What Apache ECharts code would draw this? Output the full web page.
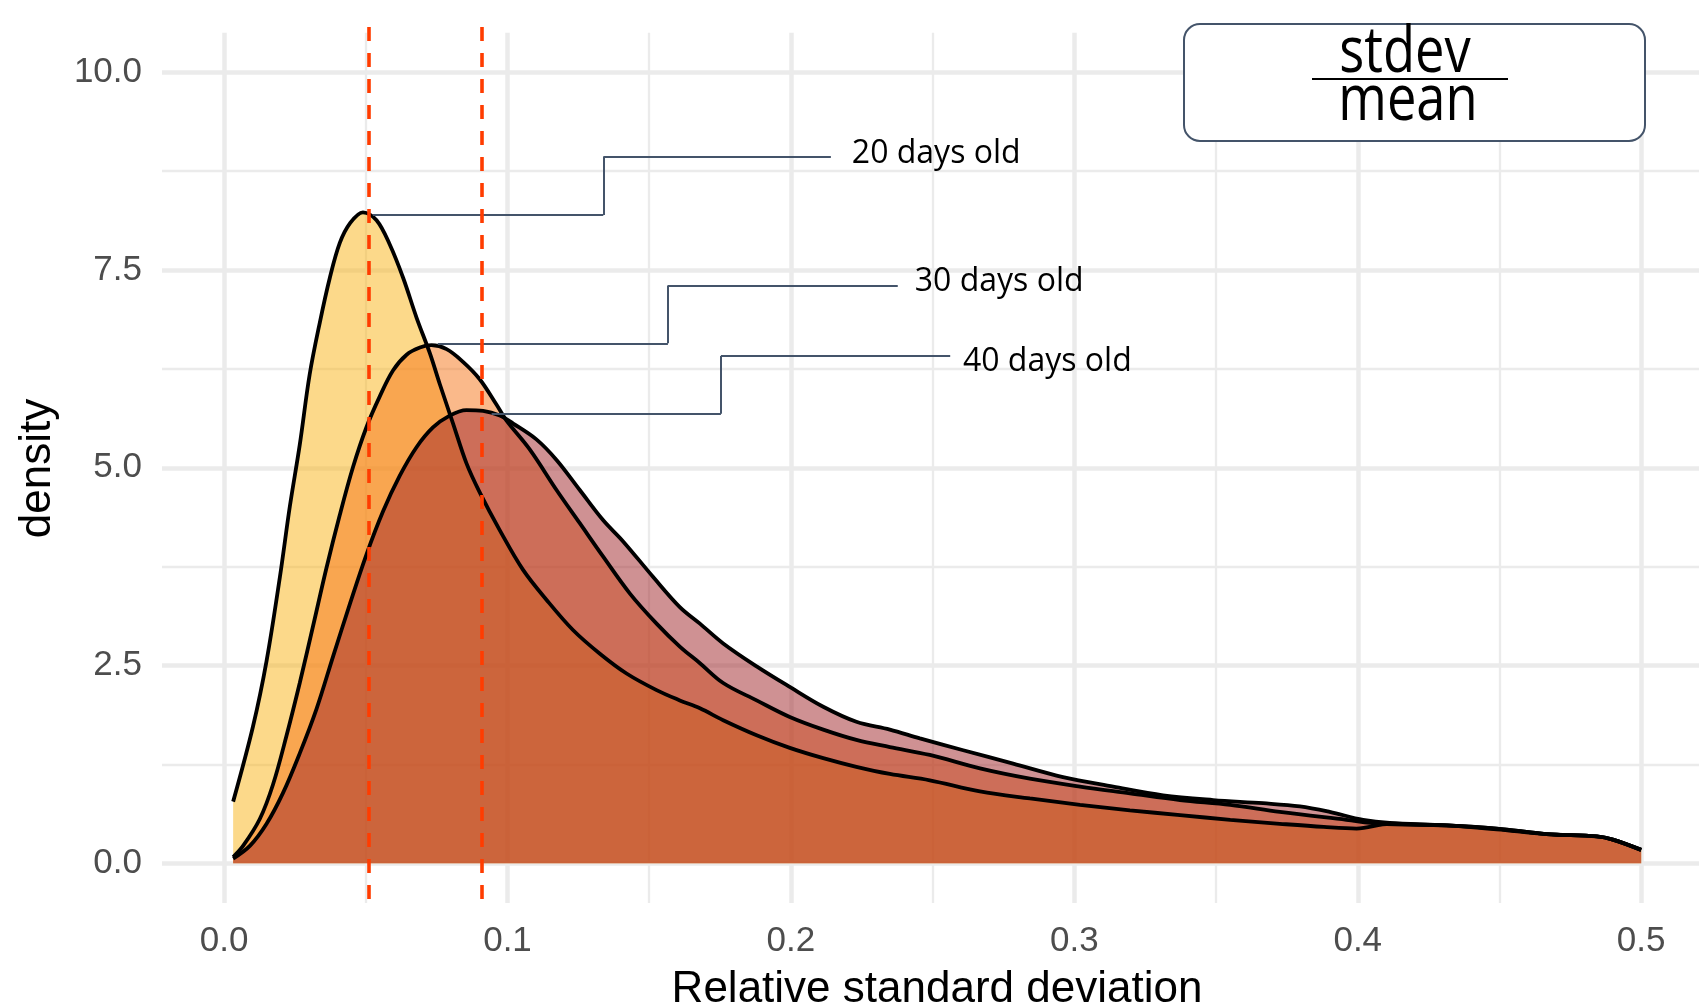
<!DOCTYPE html>
<html>
<head>
<meta charset="utf-8">
<script src="https://cdn.jsdelivr.net/npm/echarts@6/dist/echarts.min.js"></script>
<style>
html,body{margin:0;padding:0;background:#ffffff;}
#chart{width:1699px;height:1007px;}
</style>
</head>
<body>
<div id="chart"></div>
<script>
// ---------------- data ----------------
const seriesNames = ['20 days old', '30 days old', '40 days old'];

const x20 = [0.0032,0.0102,0.0150,0.0197,0.0232,0.0267,0.0302,0.0338,0.0373,0.0408,0.0444,0.0490,0.0538,0.0585,0.0632,0.0679,0.0726,0.0761,0.0808,0.0855,0.0902,0.0973,0.1055,0.1138,0.1231,0.1326,0.1420,0.1526,0.1608,0.1679,0.1761,0.1879,0.1996,0.2114,0.2231,0.2349,0.2490,0.2667,0.2843,0.3020,0.3196,0.3373,0.3550,0.3725,0.3880,0.3996,0.4113,0.4313,0.4490,0.4666,0.4843,0.4900,0.5000];
const y20 = [0.78,1.73,2.56,3.62,4.51,5.29,6.18,6.84,7.40,7.84,8.09,8.23,8.13,7.82,7.40,6.90,6.45,6.06,5.56,5.06,4.69,4.21,3.71,3.33,2.95,2.65,2.40,2.19,2.06,1.96,1.81,1.62,1.46,1.33,1.22,1.13,1.05,0.91,0.82,0.74,0.67,0.61,0.55,0.50,0.46,0.44,0.50,0.48,0.44,0.37,0.34,0.30,0.17];

const x30 = [0.0032,0.0067,0.0126,0.0173,0.0220,0.0267,0.0314,0.0361,0.0408,0.0455,0.0502,0.0549,0.0596,0.0644,0.0691,0.0732,0.0785,0.0843,0.0902,0.0961,0.0996,0.1079,0.1173,0.1255,0.1337,0.1432,0.1526,0.1608,0.1679,0.1761,0.1879,0.1996,0.2114,0.2231,0.2349,0.2490,0.2667,0.2843,0.3020,0.3196,0.3373,0.3550,0.3725,0.3960,0.4078,0.4313,0.4490,0.4666,0.4843,0.4900,0.5000];
const y30 = [0.08,0.22,0.56,1.00,1.61,2.28,3.00,3.73,4.40,5.01,5.51,5.90,6.23,6.43,6.52,6.55,6.50,6.34,6.12,5.80,5.60,5.23,4.72,4.30,3.88,3.41,3.03,2.74,2.53,2.28,2.06,1.85,1.69,1.56,1.47,1.37,1.20,1.07,0.97,0.885,0.80,0.74,0.65,0.55,0.50,0.48,0.44,0.37,0.34,0.30,0.17];

const x40 = [0.0032,0.0091,0.0150,0.0208,0.0267,0.0326,0.0385,0.0444,0.0502,0.0561,0.0620,0.0679,0.0737,0.0796,0.0855,0.0914,0.0973,0.1020,0.1102,0.1173,0.1255,0.1337,0.1408,0.1514,0.1608,0.1679,0.1761,0.1879,0.1996,0.2114,0.2231,0.2349,0.2455,0.2608,0.2784,0.2960,0.3137,0.3313,0.3490,0.3666,0.3796,0.3901,0.4019,0.4113,0.4313,0.4490,0.4666,0.4843,0.4900,0.5000];
const y40 = [0.06,0.22,0.50,0.89,1.39,1.95,2.62,3.28,3.90,4.45,4.90,5.26,5.51,5.66,5.73,5.72,5.66,5.56,5.36,5.10,4.72,4.34,4.07,3.62,3.24,3.03,2.78,2.49,2.23,1.98,1.79,1.69,1.58,1.43,1.26,1.09,0.97,0.86,0.80,0.76,0.72,0.65,0.55,0.51,0.48,0.43,0.37,0.34,0.30,0.17];

// reference (dashed) vertical lines
const refLines = [0.0511, 0.0908];

// tick values
const xTicks = [0, 0.1, 0.2, 0.3, 0.4, 0.5];
const xMinorTicks = [0.05, 0.15, 0.25, 0.35, 0.45];
const yTicks = [0, 2.5, 5, 7.5, 10];
const yMinorTicks = [1.25, 3.75, 6.25, 8.75];

// annotation leader lines (data coordinates) and label anchors
const leaderPaths = [
  [[0.0525, 8.196], [0.1338, 8.196], [0.1338, 8.93], [0.2141, 8.93]],
  [[0.0754, 6.574], [0.1566, 6.574], [0.1566, 7.305], [0.2377, 7.305]],
  [[0.0944, 5.684], [0.1753, 5.684], [0.1753, 6.413], [0.2562, 6.413]]
];
const labelAnchors = [[0.2215, 8.968], [0.2437, 7.353], [0.2607, 6.339]];

// ---------------- layout / style ----------------
const X_MIN = -0.0219, X_MAX = 0.5204;
const Y_MIN = -0.59, Y_MAX = 10.573;
const PANEL_Y = [-0.5, 10.5];
const GRID_COLOR = '#EBEBEB';
const fills = ['rgba(249,179,21,0.5)', 'rgba(245,115,21,0.5)', 'rgba(160,35,40,0.5)'];

function zip(xs, ys) { return xs.map((x, i) => [x, ys[i]]); }

function seg(a, b, w) {
  const ls = {width: w, color: GRID_COLOR, type: 'solid'};
  return [{coord: a, lineStyle: ls}, {coord: b, lineStyle: ls}];
}
const gridLines = [];
xTicks.forEach(v => gridLines.push(seg([v, PANEL_Y[0]], [v, PANEL_Y[1]], 4.5)));
xMinorTicks.forEach(v => gridLines.push(seg([v, PANEL_Y[0]], [v, PANEL_Y[1]], 2.3)));
yTicks.forEach(v => gridLines.push(seg([X_MIN, v], [X_MAX, v], 4.5)));
yMinorTicks.forEach(v => gridLines.push(seg([X_MIN, v], [X_MAX, v], 2.3)));

const leaderSegs = [];
leaderPaths.forEach(path => {
  for (let i = 0; i < path.length - 1; i++) {
    leaderSegs.push([{coord: path[i]}, {coord: path[i + 1]}]);
  }
});

const refSegs = refLines.map(v => [{coord: [v, Y_MAX]}, {coord: [v, Y_MIN]}]);

const yData = [zip(x20, y20), zip(x30, y30), zip(x40, y40)];

const series = yData.map((d, i) => ({
  name: seriesNames[i],
  type: 'line',
  data: d,
  smooth: 0.35,
  showSymbol: false,
  symbol: 'none',
  z: 2,
  lineStyle: {color: '#000000', width: 3.8},
  areaStyle: {color: fills[i], opacity: 1},
  emphasis: {disabled: true},
  silent: true
}));

series[0].markLine = {
  z: 1, silent: true, symbol: ['none', 'none'], animation: false,
  label: {show: false}, emphasis: {disabled: true},
  data: gridLines
};
series[1].markLine = {
  z: 6, silent: true, symbol: ['none', 'none'], animation: false,
  label: {show: false}, emphasis: {disabled: true},
  lineStyle: {color: '#44546A', width: 2, type: 'solid'},
  data: leaderSegs
};
series[2].markLine = {
  z: 7, silent: true, symbol: ['none', 'none'], animation: false,
  label: {show: false}, emphasis: {disabled: true},
  lineStyle: {color: '#FF3C00', width: 3.6, type: [14, 12]},
  data: refSegs
};

const chart = echarts.init(document.getElementById('chart'), null, {renderer: 'canvas'});

const option = {
  animation: false,
  backgroundColor: '#ffffff',
  grid: {left: 162, right: 0, top: 27, bottom: 97, containLabel: false, outerBoundsMode: 'none'},
  xAxis: {
    type: 'value', min: X_MIN, max: X_MAX,
    axisLine: {show: false}, axisTick: {show: false}, splitLine: {show: false},
    axisLabel: {
      customValues: xTicks, margin: 14,
      formatter: v => v.toFixed(1),
      fontSize: 35, color: '#4D4D4D', fontFamily: 'Liberation Sans, Arial, sans-serif'
    },
    name: 'Relative standard deviation', nameLocation: 'middle', nameGap: 58,
    nameTextStyle: {fontSize: 44, color: '#000000', fontFamily: 'Liberation Sans, Arial, sans-serif', padding: [0, 0, 0, 13]}
  },
  yAxis: {
    type: 'value', min: Y_MIN, max: Y_MAX,
    axisLine: {show: false}, axisTick: {show: false}, splitLine: {show: false},
    axisLabel: {
      customValues: yTicks, margin: 20,
      formatter: v => v.toFixed(1),
      fontSize: 35, color: '#4D4D4D', fontFamily: 'Liberation Sans, Arial, sans-serif'
    },
    name: 'density', nameLocation: 'middle', nameGap: 102,
    nameTextStyle: {fontSize: 44, color: '#000000', fontFamily: 'Liberation Sans, Arial, sans-serif'}
  },
  series: series
};

chart.setOption(option);

// annotations positioned from data coordinates
const labelGraphics = labelAnchors.map((p, i) => {
  const px = chart.convertToPixel({gridIndex: 0}, p);
  return {
    type: 'text', x: px[0], y: px[1], z: 20, silent: true,
    style: {text: seriesNames[i], fill: '#000000', font: '32px "Open Sans", sans-serif', textAlign: 'left', textVerticalAlign: 'middle'}
  };
});

chart.setOption({
  graphic: [
    ...labelGraphics,
    {type: 'rect', z: 20, silent: true, shape: {x: 1184, y: 24, width: 461, height: 117, r: 16},
     style: {fill: '#ffffff', stroke: '#44546A', lineWidth: 2}},
    {type: 'text', z: 21, silent: true, x: 1405, y: 54, scaleX: 0.82,
     style: {text: 'stdev', fill: '#000000', font: '64px "Open Sans", sans-serif', textAlign: 'center', textVerticalAlign: 'middle'}},
    {type: 'line', z: 21, silent: true, shape: {x1: 1312, y1: 79, x2: 1508, y2: 79},
     style: {stroke: '#000000', lineWidth: 2.2}},
    {type: 'text', z: 21, silent: true, x: 1408, y: 102, scaleX: 0.82,
     style: {text: 'mean', fill: '#000000', font: '64px "Open Sans", sans-serif', textAlign: 'center', textVerticalAlign: 'middle'}}
  ]
});
</script>
</body>
</html>
